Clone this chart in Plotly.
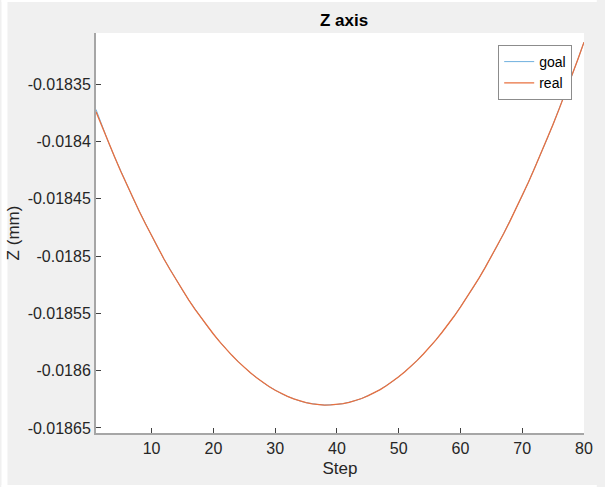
import plotly.graph_objects as go

steps = list(range(1, 81))
real = [
    -0.0183740, -0.0183875, -0.0184007, -0.0184134, -0.0184259, -0.0184379, -0.0184496, -0.0184609,
    -0.0184718, -0.0184824, -0.0184926, -0.0185025, -0.0185119, -0.0185210, -0.0185298, -0.0185382,
    -0.0185462, -0.0185538, -0.0185611, -0.0185680, -0.0185746, -0.0185808, -0.0185866, -0.0185921,
    -0.0185971, -0.0186019, -0.0186062, -0.0186102, -0.0186138, -0.0186171, -0.0186200, -0.0186225,
    -0.0186247, -0.0186265, -0.0186279, -0.0186289, -0.0186296, -0.0186300, -0.0186299, -0.0186295,
    -0.0186288, -0.0186276, -0.0186261, -0.0186243, -0.0186220, -0.0186194, -0.0186165, -0.0186131,
    -0.0186094, -0.0186054, -0.0186009, -0.0185962, -0.0185910, -0.0185855, -0.0185796, -0.0185733,
    -0.0185667, -0.0185597, -0.0185523, -0.0185446, -0.0185365, -0.0185281, -0.0185193, -0.0185101,
    -0.0185005, -0.0184906, -0.0184803, -0.0184697, -0.0184586, -0.0184473, -0.0184355, -0.0184234,
    -0.0184109, -0.0183981, -0.0183849, -0.0183713, -0.0183573, -0.0183430, -0.0183284, -0.0183133,
]
goal = [
    -0.0183720, -0.0183868, -0.0184005, -0.0184134, -0.0184259, -0.0184379, -0.0184496, -0.0184609,
    -0.0184718, -0.0184824, -0.0184926, -0.0185025, -0.0185119, -0.0185210, -0.0185298, -0.0185382,
    -0.0185462, -0.0185538, -0.0185611, -0.0185680, -0.0185746, -0.0185808, -0.0185866, -0.0185921,
    -0.0185971, -0.0186019, -0.0186062, -0.0186102, -0.0186138, -0.0186171, -0.0186200, -0.0186225,
    -0.0186247, -0.0186265, -0.0186279, -0.0186289, -0.0186296, -0.0186300, -0.0186299, -0.0186295,
    -0.0186288, -0.0186276, -0.0186261, -0.0186243, -0.0186220, -0.0186194, -0.0186165, -0.0186131,
    -0.0186094, -0.0186054, -0.0186009, -0.0185962, -0.0185910, -0.0185855, -0.0185796, -0.0185733,
    -0.0185667, -0.0185597, -0.0185523, -0.0185446, -0.0185365, -0.0185281, -0.0185193, -0.0185101,
    -0.0185005, -0.0184906, -0.0184803, -0.0184697, -0.0184586, -0.0184473, -0.0184355, -0.0184234,
    -0.0184109, -0.0183981, -0.0183849, -0.0183713, -0.0183573, -0.0183430, -0.0183284, -0.0183133,
]
x_ticks = [10, 20, 30, 40, 50, 60, 70, 80]
y_ticks = [-0.01835, -0.0184, -0.01845, -0.0185, -0.01855, -0.0186, -0.01865]
y_tick_labels = ["-0.01835", "-0.0184", "-0.01845", "-0.0185", "-0.01855", "-0.0186", "-0.01865"]

FONT = "Liberation Sans, Arial, Helvetica, sans-serif"

fig = go.Figure()
fig.add_trace(go.Scatter(x=steps, y=goal, mode="lines", name="goal",
                         line=dict(color="#4a9bd4", width=0.8)))
fig.add_trace(go.Scatter(x=steps, y=real, mode="lines", name="real",
                         line=dict(color="#E8703F", width=1.3)))

L, R, T, B = 96, 13, 33, 54
W, H = 605, 487
pw, ph = W - L - R, H - T - B

def px(xp):
    return (xp - L) / pw

def py(yp):
    return (H - B - yp) / ph

shapes = [
    dict(type="rect", xref="paper", yref="paper", x0=px(0), x1=px(6), y0=py(H), y1=py(0),
         fillcolor="white", line=dict(width=0), layer="below"),
    dict(type="rect", xref="paper", yref="paper", x0=px(0), x1=px(W), y0=py(2), y1=py(0),
         fillcolor="white", line=dict(width=0), layer="below"),
    dict(type="rect", xref="paper", yref="paper", x0=px(0), x1=px(W), y0=py(H), y1=py(485),
         fillcolor="white", line=dict(width=0), layer="below"),
]

fig.update_layout(
    width=W, height=H,
    margin=dict(l=L, r=R, t=T, b=B),
    paper_bgcolor="#f0f0f0",
    plot_bgcolor="white",
    font=dict(family=FONT, size=16, color="#262626"),
    title=dict(text="<b>Z axis</b>", x=(L + pw / 2) / W, xanchor="center",
               y=1 - 20 / H, yanchor="middle", font=dict(size=17, color="#000000")),
    showlegend=True,
    legend=dict(x=px(580), xanchor="right", y=py(45), yanchor="top",
                bgcolor="white", bordercolor="#8c8c8c", borderwidth=1,
                font=dict(size=14, color="#000000"), tracegroupgap=0,
                itemwidth=30),
    shapes=shapes,
    xaxis=dict(range=[1, 80], tickvals=x_ticks, ticks="inside", ticklen=5, tickcolor="#404040",
               showline=True, linecolor="#a6a6a6", linewidth=2, showgrid=False, zeroline=False,
               title=dict(text="Step", standoff=6, font=dict(size=17)), mirror=False),
    yaxis=dict(range=[-0.0186544, -0.0183053], tickvals=y_ticks, ticktext=y_tick_labels,
               ticks="inside", ticklen=5, tickcolor="#404040",
               showline=True, linecolor="#a6a6a6", linewidth=2, showgrid=False, zeroline=False,
               title=dict(text="Z (mm)", standoff=4, font=dict(size=17))),
)

fig.write_html("out.html")
